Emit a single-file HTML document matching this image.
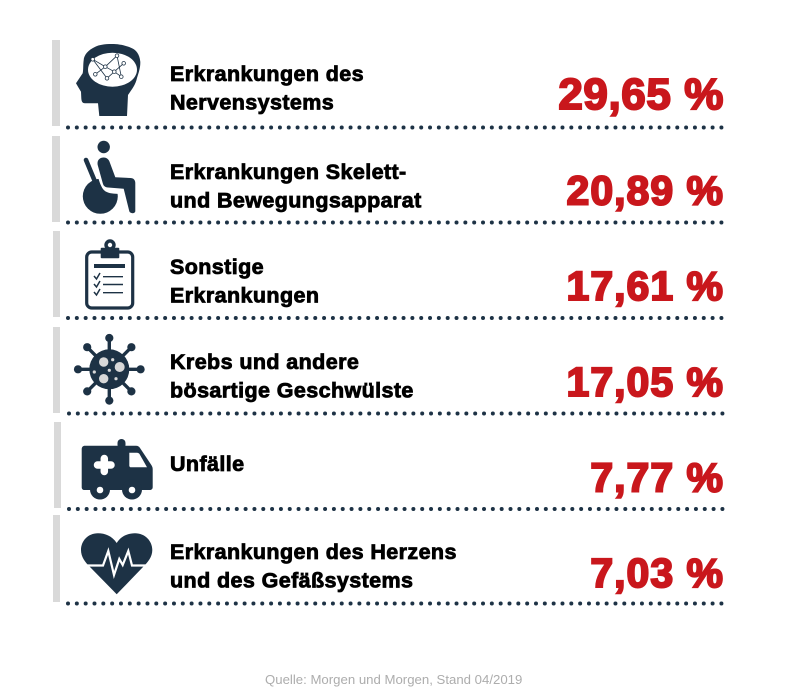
<!DOCTYPE html>
<html lang="de">
<head>
<meta charset="utf-8">
<title>Erkrankungen</title>
<style>
html,body{margin:0;padding:0;background:#fff;width:788px;height:693px;overflow:hidden}
svg{display:block}
.label{font-family:"Liberation Sans",sans-serif;font-weight:700;font-size:21.5px;fill:#000;stroke:#000;stroke-width:.8px;letter-spacing:.4px}
.value{font-family:"Liberation Sans",sans-serif;font-weight:700;font-size:41px;letter-spacing:1px;fill:#c9171c;stroke:#c9171c;stroke-width:2px;text-anchor:end}
.row:first-child .value{font-size:44px;letter-spacing:.6px}
.source{font-family:"Liberation Sans",sans-serif;font-size:13.2px;fill:#adadad}
.ic{fill:#1d3245}
</style>
</head>
<body>
<svg id="chart" xmlns="http://www.w3.org/2000/svg" width="788" height="693" viewBox="0 0 788 693">
<rect width="788" height="693" fill="#fff"/>

<g fill="#d9d9d9">
<rect x="52" y="40" width="8" height="86"/>
<rect x="52" y="136" width="8" height="86"/>
<rect x="53" y="231" width="7" height="86"/>
<rect x="53" y="327" width="7" height="86"/>
<rect x="54" y="422" width="7" height="86"/>
<rect x="53" y="515" width="7" height="87"/>
</g>

<g fill="none" stroke="#1d3245" stroke-width="4" stroke-linecap="round" stroke-dasharray="0 8.83">
<line x1="68" x2="722.5" y1="127.5" y2="127.5"/>
<line x1="68" x2="722.5" y1="222.5" y2="222.5"/>
<line x1="68" x2="722.5" y1="318" y2="318"/>
<line x1="69" x2="723.5" y1="413.5" y2="413.5"/>
<line x1="69" x2="723.5" y1="509" y2="509"/>
<line x1="68" x2="722.5" y1="603.5" y2="603.5"/>
</g>

<g>
<path class="ic" d="M127 116 L128 95 C132 89 135.5 85 137 78 C139 72 140.5 67 140.3 61.7 C139.5 54 136 50 132 48.3 C125 45 118 44 112 44 C104 44 99 45 95.3 46.7 C88 50 84 55 83.7 60 C83 65 83.5 69 82.7 73.3 L76 83.3 L78 86.7 L81 91.7 L81.3 98.3 C81.5 101 82 103.3 85 103.3 L98 103.3 L99.3 116 Z"/>
<ellipse cx="112.5" cy="69.7" rx="24.5" ry="17" fill="#fff"/>
<g fill="none" stroke="#1d3245" stroke-width=".8">
<polyline points="92.7,59.3 105.3,66.7 117,55.7 121.3,76.7"/>
<polyline points="92.7,59.3 107,78.3 114.3,71.7 123.7,63.3"/>
<polyline points="95.3,74.3 105.3,66.7 114.3,71.7 121.3,76.7"/>
<circle cx="92.7" cy="59.3" r="1.8" fill="#fff"/><circle cx="117" cy="55.7" r="1.8" fill="#fff"/><circle cx="123.7" cy="63.3" r="1.8" fill="#fff"/>
<circle cx="105.3" cy="66.7" r="1.8" fill="#fff"/><circle cx="95.3" cy="74.3" r="1.8" fill="#fff"/><circle cx="114.3" cy="71.7" r="1.8" fill="#fff"/>
<circle cx="121.3" cy="76.7" r="1.8" fill="#fff"/><circle cx="107" cy="78.3" r="1.8" fill="#fff"/>
</g>
</g>

<g>
<circle class="ic" cx="103.7" cy="147" r="6.2"/>
<circle class="ic" cx="100.3" cy="196.3" r="17.5"/>
<path d="M98 177 C100 184 102 189 105.3 191.3 C109 193.6 114 193.8 120 194 L122 170 L100 170 Z" fill="#fff"/>
<path d="M86 160 L96 184" fill="none" stroke="#1d3245" stroke-width="4.6" stroke-linecap="round"/>
<path class="ic" d="M103.7 157.5 C99.5 157.5 96.8 160.5 97.7 165 L102.7 183 C103.5 186 105 187.3 108 187.5 L123.7 188.7 L129.3 211.3 C130 213.8 135.3 214 135.3 211 L135.3 183 C135.3 180 133.5 178 130.3 178 L115.3 177.3 L110 163 C109 159.5 107 157.5 103.7 157.5 Z"/>
</g>

<g>
<rect x="86.7" y="252" width="46" height="56" rx="5" fill="#fff" stroke="#1d3245" stroke-width="3.2"/>
<rect class="ic" x="100.7" y="247.7" width="18.6" height="10.6" rx="1"/>
<circle class="ic" cx="110" cy="245" r="5.7"/>
<circle cx="110" cy="245" r="2.2" fill="#fff"/>
<rect class="ic" x="94" y="264" width="31" height="4"/>
<g fill="none" stroke="#1d3245">
<path stroke-width="1.4" d="M103 276.7H123M103 284.5H123M103 292.7H123"/>
<path stroke-width="1.5" d="M94 276 L96.5 279 L100 273M94 284 L96.5 287 L100 281M94 292 L96.5 295 L100 289"/>
</g>
</g>

<g>
<g fill="none" stroke="#1d3245" stroke-width="3.4">
<path d="M109.3 338V400.6M78 369.3H140.6M87.2 347.2L131.4 391.4M131.4 347.2L87.2 391.4"/>
</g>
<circle class="ic" cx="109.3" cy="369.3" r="20"/>
<g class="ic">
<circle cx="109.3" cy="338" r="4.1"/><circle cx="109.3" cy="400.6" r="4.1"/>
<circle cx="78" cy="369.3" r="4.1"/><circle cx="140.6" cy="369.3" r="4.1"/>
<circle cx="87.2" cy="347.2" r="4.1"/><circle cx="131.4" cy="347.2" r="4.1"/>
<circle cx="87.2" cy="391.4" r="4.1"/><circle cx="131.4" cy="391.4" r="4.1"/>
</g>
<g fill="#d8d8d8">
<circle cx="103.7" cy="362" r="4.7"/><circle cx="119.7" cy="367" r="5"/><circle cx="103.7" cy="378.7" r="4.7"/>
<circle cx="112.7" cy="359.7" r="1.6"/><circle cx="94.3" cy="372" r="1.6"/><circle cx="109.3" cy="370.3" r="1.6"/><circle cx="116" cy="378.7" r="1.6"/>
</g>
</g>

<g>
<rect class="ic" x="117.5" y="439" width="8" height="10" rx="4"/>
<path class="ic" d="M85 445.7 H136 C138 445.7 139 446.5 140 448 L151 464.5 C152 466 152.7 467.5 152.7 469 V487 C152.7 489 151.5 490 149.5 490 H84.5 C82.7 490 81.7 489 81.7 487 V449 C81.7 447 83 445.7 85 445.7Z"/>
<path d="M129.3 452.7 H137 C138 452.7 139 453.2 139.5 454 L147 467.3 H131 C130 467.3 129.3 466.6 129.3 465.6Z" fill="#fff"/>
<path d="M104.3 458.5V471.5M97.5 465H111" fill="none" stroke="#fff" stroke-width="7.5" stroke-linecap="round"/>
<circle class="ic" cx="100" cy="489.5" r="10"/><circle cx="100" cy="490" r="3.3" fill="#fff"/>
<circle class="ic" cx="132" cy="489.5" r="10"/><circle cx="132" cy="490" r="3.3" fill="#fff"/>
</g>

<g>
<path class="ic" d="M116.7 543 C112 536 105 533.3 98 533.3 C88 533.3 81 541 81 550 C81 557 85 562 90 567 L116.7 594.3 L143 567 C148 562 152.3 557 152.3 550 C152.3 541 145 533.3 135 533.3 C128 533.3 121 536 116.7 543Z"/>
<path d="M84 565.5 H103 L108.3 551 L114 575 L119.3 559 L122.7 565 L128.3 551 L132 565.5 H149" fill="none" stroke="#fff" stroke-width="2.2"/>
</g>

<g id="rows">
<g class="row" data-label-y="81"></g>
<g class="row" data-label-y="179"></g>
<g class="row" data-label-y="274"></g>
<g class="row" data-label-y="369"></g>
<g class="row" data-label-y="471"></g>
<g class="row" data-label-y="559"></g>
</g>

<text class="source" x="265" y="684">Quelle: Morgen und Morgen, Stand 04/2019</text>
</svg>

<script>
const categories = [
  ["Erkrankungen des", "Nervensystems"],
  ["Erkrankungen Skelett-", "und Bewegungsapparat"],
  ["Sonstige", "Erkrankungen"],
  ["Krebs und andere", "bösartige Geschwülste"],
  ["Unfälle"],
  ["Erkrankungen des Herzens", "und des Gefäßsystems"]
];
const shares = [29.65, 20.89, 17.61, 17.05, 7.77, 7.03];

const SVG_NS = "http://www.w3.org/2000/svg";
function valueBaseline(i) { return 109 + i * 95.6; }
function formatShare(v) { return v.toFixed(2).replace(".", ",") + " %"; }

document.querySelectorAll("#rows .row").forEach(function (row, i) {
  const labelY = parseFloat(row.getAttribute("data-label-y"));
  categories[i].forEach(function (line, j) {
    const t = document.createElementNS(SVG_NS, "text");
    t.setAttribute("class", "label");
    t.setAttribute("x", 170);
    t.setAttribute("y", labelY + j * 28.7);
    
    
    t.textContent = line;
    row.appendChild(t);
  });
  const v = document.createElementNS(SVG_NS, "text");
  v.setAttribute("class", "value");
  v.setAttribute("x", 724);
  v.setAttribute("y", valueBaseline(i));
  
  
  v.textContent = formatShare(shares[i]);
  row.appendChild(v);
});
</script>
</body>
</html>
